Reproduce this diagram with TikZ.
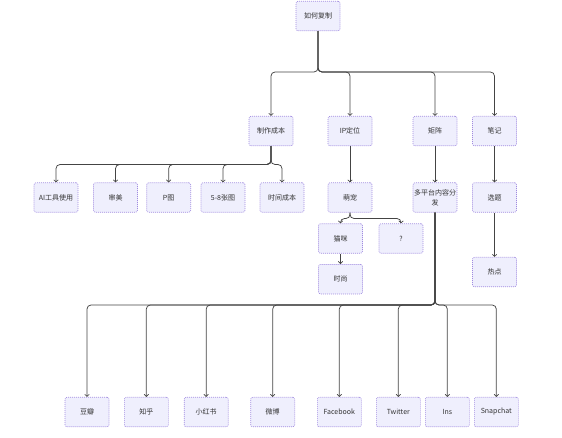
\documentclass[tikz,border=0pt]{standalone}
\usepackage{fontspec}
\newfontfamily\cjk{Noto Sans CJK SC}
\usetikzlibrary{arrows.meta}
\definecolor{boxfill}{HTML}{EFEFFD}
\definecolor{boxline}{HTML}{A08BE0}
\definecolor{ink}{HTML}{333333}
\definecolor{wire}{HTML}{444444}
\tikzset{
  box/.style={draw=boxline, line width=0.6pt, dash pattern=on 1pt off 1pt, fill=boxfill,
    rounded corners=2pt, minimum width=44pt, minimum height=29.5pt, inner sep=1pt,
    font=\cjk\fontsize{7}{10}\selectfont, text=ink, align=center},
  edge/.style={draw=wire, line width=0.75pt, rounded corners=4pt,
    -{Straight Barb[length=2.2pt,width=4.5pt,line width=0.7pt]}}
}
\begin{document}
\begin{tikzpicture}[x=1pt,y=-1pt]
\useasboundingbox (0,0) rectangle (562,437);
% level 0
\node[box] (root) at (318,16) {如何复制};
% level 1
\node[box] (cost) at (271,131) {制作成本};
\node[box] (ip) at (350,131) {IP定位};
\node[box] (matrix) at (435,131) {矩阵};
\node[box] (note) at (494.5,131) {笔记};
% level 2
\node[box] (ai) at (56,197.5) {AI工具使用};
\node[box] (aes) at (115.5,197.5) {审美};
\node[box] (ps) at (168.7,197.5) {P图};
\node[box] (pics) at (223,197.5) {5-8张图};
\node[box] (time) at (282,197.5) {时间成本};
\node[box] (pet) at (350,197.5) {萌宠};
\node[box] (multi) at (435,197.5) {多平台内容分\\发};
\node[box] (topic) at (494.5,197.5) {选题};
% level 3
\node[box] (cat) at (340.5,238.5) {猫咪};
\node[box] (q) at (401,238.5) {?};
\node[box] (fashion) at (340.5,279.2) {时尚};
\node[box] (hot) at (494.5,272) {热点};
% bottom row
\node[box] (douban) at (87,412) {豆瓣};
\node[box] (zhihu) at (146.3,412) {知乎};
\node[box] (xhs) at (206.2,412) {小红书};
\node[box] (weibo) at (272.7,412) {微博};
\node[box] (fb) at (339.3,412) {Facebook};
\node[box] (tw) at (398.3,412) {Twitter};
\node[box] (ins) at (447.3,412) {Ins};
\node[box] (snap) at (496.3,412) {Snapchat};
% bus coordinates
\coordinate (b1) at (0,72);
\coordinate (b2) at (0,164.5);
\coordinate (b3) at (0,218.5);
\coordinate (b4) at (0,305);
% edges root
\foreach \t in {cost,ip,matrix,note}
  \draw[edge] (root.south) -- (root.south |- b1) -| (\t.north);
% cost children
\foreach \t in {ai,aes,ps,pics,time}
  \draw[edge] (cost.south) -- (cost.south |- b2) -| (\t.north);
\draw[edge] (ip) -- (pet);
\draw[edge] (matrix) -- (multi);
\draw[edge] (note) -- (topic);
\draw[edge] (topic) -- (hot);
\foreach \t in {cat,q}
  \draw[edge] (pet.south) -- (pet.south |- b3) -| (\t.north);
\draw[edge] (cat) -- (fashion);
\foreach \t in {douban,zhihu,xhs,weibo,fb,tw,ins,snap}
  \draw[edge] (multi.south) -- (multi.south |- b4) -| (\t.north);
\end{tikzpicture}
\end{document}
